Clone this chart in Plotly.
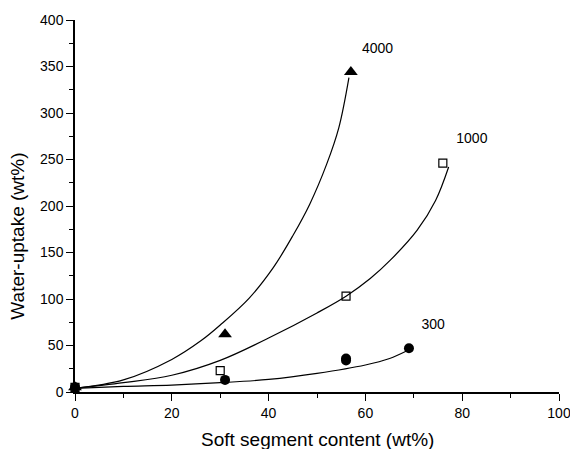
import plotly.graph_objects as go

# measured data points
x300 = [0, 31, 56, 56, 69]
y300 = [5, 13, 34, 36, 47]
x1000 = [0, 30, 56, 76]
y1000 = [5, 23, 103, 246]
x4000 = [0, 31, 57]
y4000 = [5, 62, 344]

# fitted curves
cx300 = [0, 10, 20, 30, 40, 50, 60, 65, 68.5]
cy300 = [4, 6, 7.5, 10, 13.5, 20, 29, 36, 44]
cx1000 = [0, 10, 20, 30, 40, 50, 56, 61, 65.2, 70.7, 74.5, 77.2]
cy1000 = [4, 10, 18, 34, 58, 85, 103, 122, 142, 174, 206, 242]
cx4000 = [0, 10, 20, 26, 30, 36, 41, 45, 48.5, 52, 54.5, 56.6]
cy4000 = [4, 13, 35, 55, 72, 101, 134, 168, 202, 245, 284, 338]

labels = ["4000", "1000", "300"]
label_x = [62.5, 82, 74]
label_y = [368, 271, 72]

x_title = "Soft segment content (wt%)"
y_title = "Water-uptake (wt%)"

FONT = "Liberation Sans, Arial, Helvetica, sans-serif"

fig = go.Figure()
line = dict(color="black", width=1.2, shape="spline", smoothing=1.0)
for cx, cy in [(cx300, cy300), (cx1000, cy1000), (cx4000, cy4000)]:
    fig.add_trace(go.Scatter(x=cx, y=cy, mode="lines", line=line, hoverinfo="skip"))

fig.add_trace(go.Scatter(x=x1000, y=y1000, mode="markers",
                         marker=dict(symbol="square-open", size=8, color="black", line=dict(width=1.2)),
                         cliponaxis=False))
fig.add_trace(go.Scatter(x=x4000, y=y4000, mode="markers",
                         marker=dict(symbol="triangle-up", size=12, color="black"), cliponaxis=False))
fig.add_trace(go.Scatter(x=x300, y=y300, mode="markers",
                         marker=dict(symbol="circle", size=10, color="black"), cliponaxis=False))
fig.add_trace(go.Scatter(x=label_x, y=label_y, mode="text", text=labels,
                         textfont=dict(family=FONT, size=14, color="black"),
                         cliponaxis=False))

fig.update_layout(
    width=570, height=449,
    margin=dict(l=75, r=11, t=20, b=57),
    plot_bgcolor="white", paper_bgcolor="white",
    showlegend=False,
    font=dict(family=FONT, color="black"),
    annotations=[
        dict(text=x_title, xref="paper", yref="paper", x=0.5, y=-0.129,
             xanchor="center", yanchor="middle", showarrow=False, font=dict(size=19)),
        dict(text=y_title, xref="paper", yref="paper", x=-0.118, y=0.42,
             xanchor="center", yanchor="middle", textangle=-90, showarrow=False,
             font=dict(size=19)),
    ],
)
fig.update_xaxes(range=[0, 100], tickvals=[0, 20, 40, 60, 80, 100], showline=True,
                 linecolor="black", linewidth=1.5, ticks="outside", ticklen=7, tickwidth=1.3,
                 tickcolor="black", showgrid=False, zeroline=False, automargin=False,
                 tickfont=dict(size=14), ticklabeloverflow="allow",
                 minor=dict(tickvals=[10, 30, 50, 70, 90], ticks="outside", ticklen=4,
                            tickwidth=1.3, tickcolor="black"))
fig.update_yaxes(range=[0, 400], tickvals=list(range(0, 401, 50)), showline=True,
                 linecolor="black", linewidth=1.5, ticks="outside", ticklen=7, tickwidth=1.3,
                 tickcolor="black", showgrid=False, zeroline=False, automargin=False,
                 tickfont=dict(size=14), ticklabeloverflow="allow",
                 minor=dict(tickvals=list(range(25, 400, 50)), ticks="outside", ticklen=4,
                            tickwidth=1.3, tickcolor="black"))

fig.write_html("out.html", config={"displayModeBar": False},
               post_script="document.body.style.margin='0px';")
